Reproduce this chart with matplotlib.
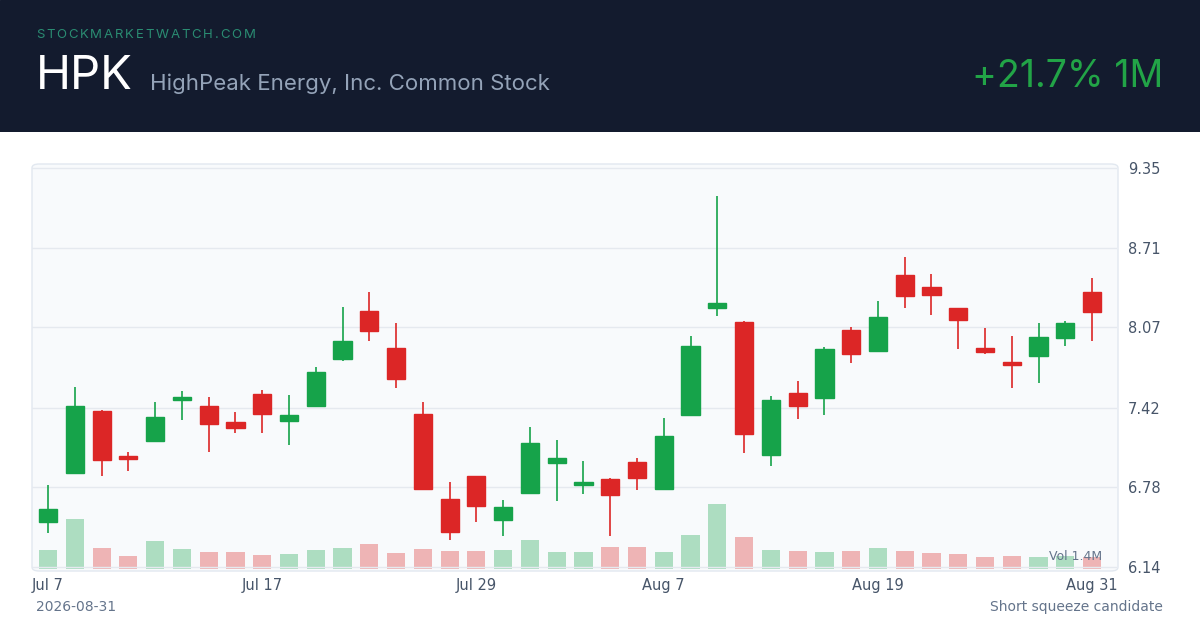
import matplotlib
matplotlib.use("Agg")
import matplotlib.pyplot as plt
from matplotlib.patches import Rectangle, FancyBboxPatch

opens  = [6.50,6.896,7.395,7.02,7.153,7.48,7.435,7.305,7.53,7.313,7.435,7.81,8.199,7.90,7.37,6.687,6.87,6.52,6.734,6.98,
          6.80,6.85,6.985,6.77,7.363,8.225,8.11,7.04,7.54,7.50,8.05,7.88,8.49,8.39,8.22,7.90,7.79,7.837,7.98,8.35]
closes = [6.61,7.435,6.999,7.01,7.346,7.49,7.29,7.257,7.37,7.362,7.71,7.957,8.038,7.65,6.77,6.42,6.63,6.62,7.14,7.02,
          6.81,6.72,6.86,7.19,7.92,8.26,7.21,7.48,7.435,7.89,7.85,8.15,8.32,8.33,8.13,7.87,7.765,7.99,8.10,8.19]
highs  = [6.80,7.59,7.40,7.065,7.467,7.555,7.507,7.386,7.563,7.52,7.75,8.23,8.35,8.10,7.467,6.82,6.87,6.68,7.27,7.16,
          6.99,6.86,7.02,7.34,8.00,9.125,8.12,7.515,7.64,7.91,8.07,8.28,8.63,8.50,8.22,8.06,8.00,8.10,8.12,8.465]
lows   = [6.41,6.89,6.87,6.91,7.15,7.32,7.065,7.217,7.217,7.12,7.43,7.80,7.957,7.58,6.76,6.36,6.50,6.39,6.73,6.67,
          6.73,6.39,6.76,6.76,7.36,8.16,7.06,6.95,7.33,7.36,7.78,7.87,8.22,8.17,7.89,7.855,7.58,7.62,7.92,7.96]
volumes = [18,48,20,12,27,19,16,16,13,14,18,20,24,15,19,17,17,18,28,16,
           16,21,21,16,33,63,31,18,17,16,17,20,17,15,14,11,12,11,12,11]
tick_idx = [0,8,16,23,31,39]
tick_labels = ["Jul 7","Jul 17","Jul 29","Aug 7","Aug 19","Aug 31"]
yticks = [6.14,6.78,7.42,8.07,8.71,9.35]

GREEN, RED = "#16a34a", "#dc2626"
fig = plt.figure(figsize=(12,6.3), dpi=100)
fig.patch.set_facecolor("white")
hdr = fig.add_axes([0,1-132/630,1,132/630]); hdr.set_axis_off()
hdr.add_patch(Rectangle((0,0),1,1,transform=hdr.transAxes,color="#131b2e"))
renderer = fig.canvas.get_renderer()
brand = "STOCKMARKETWATCH.COM"
x = 36.0
for ch in brand:
    t = fig.text(x/1200,1-35/630,ch,color="#2a8c72",fontsize=9.5,va="center",ha="left",family="Inter")
    w = t.get_window_extent(renderer).width
    x += w + 1.8
fig.text(36/1200,1-77/630,"HPK",color="white",fontsize=34,va="center",family="Inter")
fig.text(150/1200,1-84/630,"HighPeak Energy, Inc. Common Stock",color="#94a3b8",fontsize=16,va="center",family="Inter")
fig.text(1163/1200,1-77/630,"+21.7% 1M",color="#22a447",fontsize=27,va="center",ha="right",family="Inter")

bg = fig.add_axes([0,0,1,1]); bg.set_axis_off(); bg.set_xlim(0,1); bg.set_ylim(0,1)
bg.add_patch(FancyBboxPatch((32/1200,1-571/630),1086/1200,407/630,boxstyle="round,pad=0,rounding_size=0.006",
                   facecolor="#f8fafc",edgecolor="#e2e8f0",lw=1))
ax = fig.add_axes([32/1200,1-570/630,1085/1200,407/630])
ax.patch.set_alpha(0)
ax.set_xlim(-0.6,39.93); ax.set_ylim(6.116,9.39)
for s in ax.spines.values(): s.set_visible(False)
for y in yticks: ax.axhline(y,color="#e5e9ef",lw=1,zorder=0)
vax = ax.twinx(); vax.set_ylim(-1.2,63/0.16); vax.set_axis_off()
for i,(o,c,h,l,v) in enumerate(zip(opens,closes,highs,lows,volumes)):
    col = GREEN if c>=o else RED
    vax.bar(i,v,width=0.68,color=col,alpha=0.33,lw=0)
    ax.vlines(i,l,h,color=col,lw=1.2,zorder=3)
    ax.add_patch(Rectangle((i-0.34,min(o,c)),0.68,max(abs(c-o),0.025),color=col,zorder=4))
ax.set_zorder(vax.get_zorder()+1)
ax.set_xticks(tick_idx); ax.set_xticklabels(tick_labels)
ax.yaxis.tick_right(); ax.set_yticks(yticks); ax.set_yticklabels([f"{y:.2f}" for y in yticks])
ax.tick_params(length=0,colors="#475569",labelsize=10.5,pad=8)
ax.tick_params(axis="x",pad=6)
fig.text(1102/1200,1-557/630,"Vol 1.4M",ha="right",va="center",fontsize=9,color="#64748b")
fig.text(36/1200,1-607/630,"2026-08-31",color="#64748b",fontsize=10,va="center")
fig.text(1163/1200,1-607/630,"Short squeeze candidate",color="#64748b",fontsize=10,va="center",ha="right")
fig.savefig("out.png",dpi=100)
